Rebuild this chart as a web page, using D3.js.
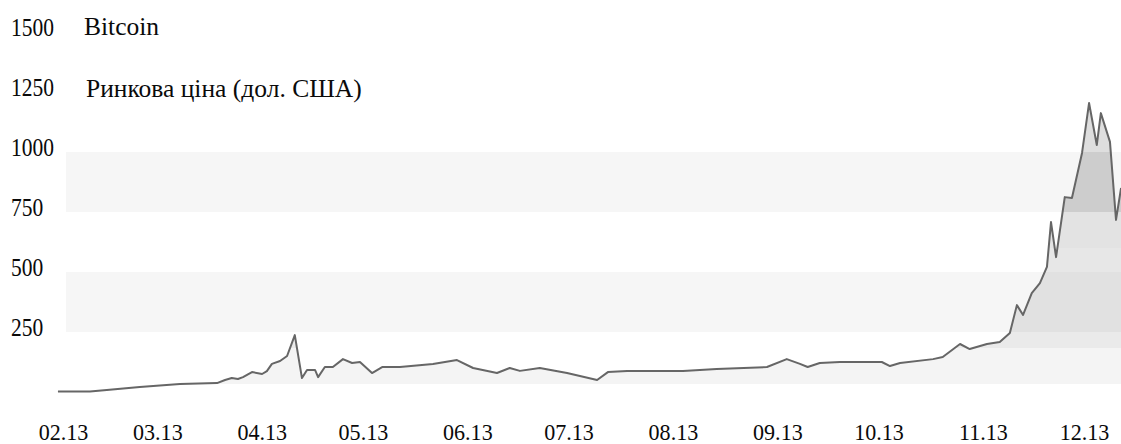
<!DOCTYPE html>
<html><head><meta charset="utf-8">
<script src="https://cdn.jsdelivr.net/npm/d3@7"></script>
<style>body{margin:0;background:#fff}svg{display:block}
svg text{font-family:"Liberation Serif","Times New Roman",serif;fill:#0a0a0a}</style>
</head><body>
<svg id="c" width="1121" height="444"></svg>
<script>
// ---- data ----
const dates = [
"2013-01-30T12","2013-02-09T00","2013-02-14T00","2013-02-23T19","2013-03-07T17","2013-03-18T17",
"2013-03-21T02","2013-03-23T02","2013-03-24T22","2013-03-26T10","2013-03-29T02","2013-04-01T02",
"2013-04-02T12","2013-04-04T00","2013-04-06T10","2013-04-08T12","2013-04-10T19","2013-04-12T22",
"2013-04-14T10","2013-04-16T19","2013-04-17T17","2013-04-19T17","2013-04-22T02","2013-04-25T02",
"2013-04-27T19","2013-04-30T03","2013-05-03T17","2013-05-06T17","2013-05-12T00","2013-05-21T19",
"2013-05-28T22","2013-06-02T17","2013-06-09T19","2013-06-13T14","2013-06-16T14","2013-06-22T12",
"2013-06-30T14","2013-07-09T12","2013-07-12T17","2013-07-18T10","2013-08-04T00","2013-08-14T00",
"2013-08-28T22","2013-09-03T19","2013-09-07T17","2013-09-10T00","2013-09-13T14","2013-09-19T14",
"2013-10-02T00","2013-10-04T10","2013-10-07T10","2013-10-17T05","2013-10-20T02","2013-10-25T05",
"2013-10-28T02","2013-11-02T05","2013-11-06T00","2013-11-09T00","2013-11-11T02","2013-11-12T22",
"2013-11-15T12","2013-11-17T22","2013-11-20T00","2013-11-21T05","2013-11-22T17","2013-11-25T07",
"2013-11-27T10","2013-11-30T10","2013-12-02T12","2013-12-04T19","2013-12-06T00","2013-12-08T17",
"2013-12-10T12","2013-12-12T00"
];
const prices = [
2,2,8,21,33,37,
50,58,54,62,83,75,
87,117,129,150,237,58,
92,92,62,104,104,137,
121,125,79,104,104,117,
133,100,79,100,88,100,
79,50,83,88,88,96,
104,137,117,104,121,125,
125,108,121,137,146,200,
179,200,208,246,362,321,
412,454,521,708,562,812,
808,996,1204,1029,1162,1042,
717,850
];
const yTickValues = [250,500,750,1000,1250,1500];
const xTickDates = ["2013-02-01T00","2013-03-01T00","2013-04-01T00","2013-05-01T00","2013-06-01T00",
  "2013-07-01T00","2013-08-01T00","2013-09-01T00","2013-10-01T00","2013-11-01T00","2013-12-01T00"];
const xTickLabels = ["02.13","03.13","04.13","05.13","06.13","07.13","08.13","09.13","10.13","11.13","12.13"];
const bandRanges = [[250,500],[750,1000]];
const titleText = "Bitcoin";
const subtitleText = "Ринкова ціна (дол. США)";
const areaBaseValue = 33;

// ---- style ----
const fillSteps = [[0,"#f4f4f4"],[182,"#eaeaea"],[250,"#e1e1e1"],[500,"#e7e7e7"],[600,"#e3e3e3"],[750,"#cdcdcd"],[1000,"#dedede"]];
const W = 1121, H = 444;

const parse = d3.timeParse("%Y-%m-%dT%H");
const data = dates.map((d,i)=>({date:parse(d), value:prices[i]}));

const svg = d3.select("#c");
const x = d3.scaleTime().domain([parse("2013-02-01T00"), parse("2013-12-01T00")]).range([63,1084]);
const y = d3.scaleLinear().domain([0,1500]).range([392,32]);

// bands
svg.append("g").selectAll("rect").data(bandRanges).join("rect")
  .attr("x",66).attr("width",W-66)
  .attr("y",d=>y(d[1])).attr("height",d=>y(d[0])-y(d[1]))
  .attr("fill","#f6f6f6");

// stepped gradient for area
const defs = svg.append("defs");
const grad = defs.append("linearGradient").attr("id","ag")
  .attr("gradientUnits","userSpaceOnUse").attr("x1",0).attr("x2",0).attr("y1",H).attr("y2",0);
fillSteps.forEach((s,i)=>{
  const off = (H - y(s[0]))/H;
  const nextOff = i<fillSteps.length-1 ? (H - y(fillSteps[i+1][0]))/H : 1;
  grad.append("stop").attr("offset",off).attr("stop-color",s[1]);
  grad.append("stop").attr("offset",nextOff).attr("stop-color",s[1]);
});

const area = d3.area().x(d=>x(d.date)).y0(y(areaBaseValue)).y1(d=>Math.min(y(d.value), y(areaBaseValue)));
svg.append("path").datum(data).attr("d",area).attr("fill","url(#ag)");

const line = d3.line().x(d=>x(d.date)).y(d=>y(d.value));
svg.append("path").datum(data).attr("d",line)
  .attr("fill","none").attr("stroke","#666").attr("stroke-width",2)
  .attr("stroke-linejoin","round");

// y axis
const gy = svg.append("g").call(d3.axisLeft(y).tickValues(yTickValues).tickSize(0).tickFormat(d3.format("d")));
gy.attr("font-family",null);
gy.select(".domain").remove();
gy.selectAll("text").attr("x",0).attr("dy",null).attr("text-anchor","start")
  .attr("transform","translate(11,3) scale(0.86,1)")
  .style("font-size","25px");

// x axis
const gx = svg.append("g").attr("transform","translate(0,440)")
  .call(d3.axisBottom(x).tickValues(xTickDates.map(parse)).tickSize(0).tickFormat((d,i)=>xTickLabels[i]));
gx.attr("font-family",null);
gx.select(".domain").remove();
gx.selectAll("text").attr("y",0).attr("dy",null)
  .attr("transform","scale(0.92,1)")
  .style("font-size","24px");

// titles
svg.append("text").attr("x",84).attr("y",35).text(titleText).style("font-size","25.5px");
svg.append("text").attr("x",86).attr("y",97).text(subtitleText).style("font-size","25.5px");
</script>
</body></html>
